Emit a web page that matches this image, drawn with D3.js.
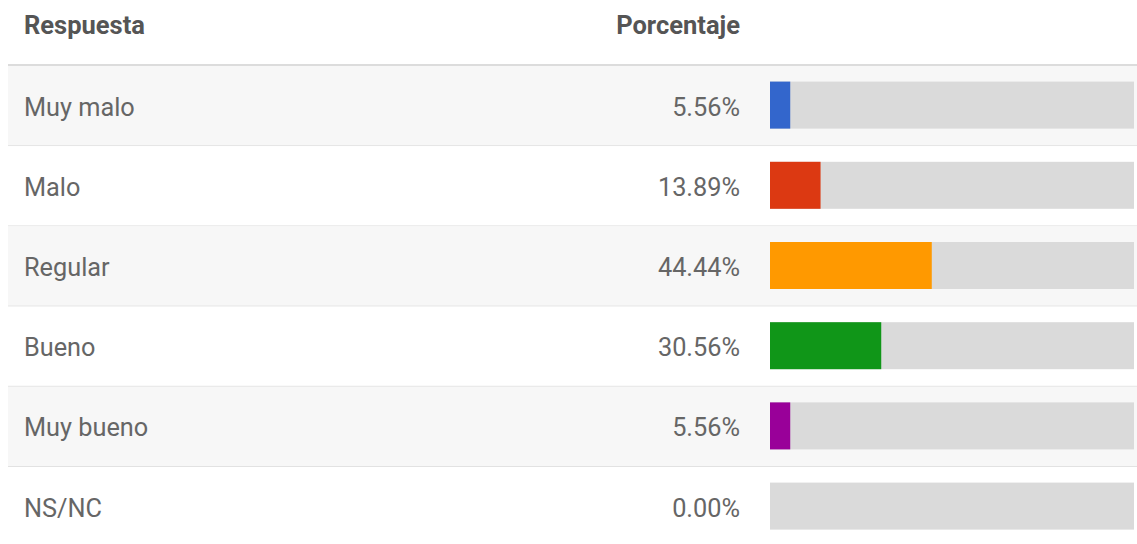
<!DOCTYPE html>
<html>
<head>
<meta charset="utf-8">
<script src="https://cdn.jsdelivr.net/npm/d3@7"></script>
<style>
  body { margin: 0; background: #fff; }
  svg { display: block; font-family: Roboto, "Noto Sans", sans-serif; }
</style>
</head>
<body>
<svg id="chart" width="1137" height="544"></svg>
<script>
// data
var respuestas = ["Muy malo", "Malo", "Regular", "Bueno", "Muy bueno", "NS/NC"];
var porcentajes = [5.56, 13.89, 44.44, 30.56, 5.56, 0.00];
var colores = ["#3366cc", "#dc3912", "#ff9900", "#109618", "#990099", "#3b3eac"];
var encabezados = ["Respuesta", "Porcentaje"];

var W = 1137, H = 544;
var left = 8, headH = 66, rowH = 80.2;
var barX0 = 770, barX1 = 1134, barH = 47;

var svg = d3.select("#chart");

var y = d3.scaleBand()
  .domain(respuestas)
  .range([headH, headH + rowH * respuestas.length])
  .paddingInner(0).paddingOuter(0);

var x = d3.scaleLinear().domain([0, 100]).range([barX0, barX1]);

// header
svg.append("text")
  .attr("x", 24).attr("y", 34)
  .attr("font-size", 25.5).attr("font-weight", 700)
  .attr("fill", "#555")
  .text(encabezados[0]);
svg.append("text")
  .attr("x", 740).attr("y", 34)
  .attr("text-anchor", "end")
  .attr("font-size", 25.5).attr("font-weight", 700)
  .attr("fill", "#555")
  .text(encabezados[1]);

var rows = svg.selectAll("g.row")
  .data(respuestas)
  .join("g")
  .attr("class", "row")
  .attr("transform", d => "translate(0," + y(d) + ")");

rows.append("rect")
  .attr("x", left).attr("width", W - left)
  .attr("height", y.bandwidth())
  .attr("fill", (d, i) => i % 2 === 0 ? "#f7f7f7" : "#ffffff");

rows.append("line")
  .attr("x1", left).attr("x2", W)
  .attr("y1", y.bandwidth() - 0.5).attr("y2", y.bandwidth() - 0.5)
  .attr("stroke", "#e2e2e2").attr("stroke-width", 1)
  .filter((d, i) => i === respuestas.length - 1).remove();

rows.append("text")
  .attr("x", 24).attr("y", y.bandwidth() / 2 + 9.5)
  .attr("font-size", 25.3).attr("fill", "#666")
  .text(d => d);

rows.append("text")
  .attr("x", 740).attr("y", y.bandwidth() / 2 + 9.5)
  .attr("text-anchor", "end")
  .attr("font-size", 25.3).attr("fill", "#666")
  .text((d, i) => porcentajes[i].toFixed(2) + "%");

// track
rows.append("rect")
  .attr("x", x(0)).attr("width", x(100) - x(0))
  .attr("y", (y.bandwidth() - barH) / 2 - 1)
  .attr("height", barH)
  .attr("fill", "#dadada");

// value bar
rows.append("rect")
  .attr("x", x(0))
  .attr("width", (d, i) => x(porcentajes[i]) - x(0))
  .attr("y", (y.bandwidth() - barH) / 2 - 1)
  .attr("height", barH)
  .attr("fill", (d, i) => colores[i]);

// header bottom line
svg.append("line")
  .attr("x1", left).attr("x2", W)
  .attr("y1", headH - 1).attr("y2", headH - 1)
  .attr("stroke", "#dcdcdc").attr("stroke-width", 2);
</script>
</body>
</html>
